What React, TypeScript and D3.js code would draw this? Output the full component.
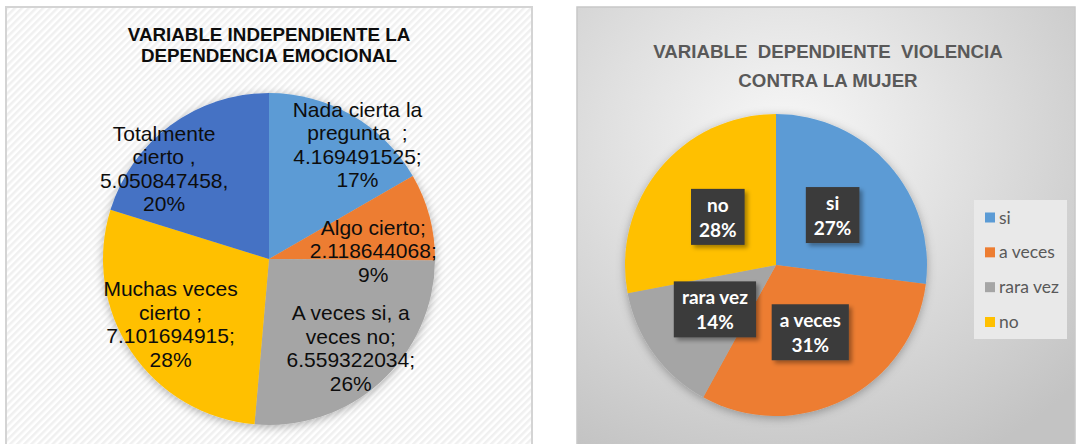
import React, { useEffect, useRef } from 'react';
import * as d3 from 'd3';

// ---------- Left chart data ----------
const leftTitle = ['VARIABLE INDEPENDIENTE LA', 'DEPENDENCIA EMOCIONAL'];
const leftCategories = ['Nada cierta la pregunta', 'Algo cierto', 'A veces si, a veces no', 'Muchas veces cierto', 'Totalmente cierto'];
const leftNameLines = [
  ['Nada cierta la', 'pregunta  ;'],
  ['Algo cierto;'],
  ['A veces si, a', 'veces no;'],
  ['Muchas veces', 'cierto ;'],
  ['Totalmente', 'cierto ,'],
];
const leftValues = [4.169491525, 2.118644068, 6.559322034, 7.101694915, 5.050847458];
const leftSeparators = [';', ';', ';', ';', ','];
const leftPercents = ['17%', '9%', '26%', '28%', '20%'];
const leftColors = ['#5B9BD5', '#ED7D31', '#A5A5A5', '#FFC000', '#4472C4'];
// label placement relative to slice middle (degrees shift, fraction of radius)
const leftLabelShift = [7.7, 10.3, -0.3, 0.4, -12.9];
const leftLabelRadius = [0.871, 0.63, 0.729, 0.711, 0.834];

// ---------- Right chart data ----------
const rightTitle = ['VARIABLE  DEPENDIENTE  VIOLENCIA', 'CONTRA LA MUJER'];
const rightCategories = ['si', 'a veces', 'rara vez', 'no'];
const rightValues = [27, 31, 14, 28];
const rightPercents = ['27%', '31%', '14%', '28%'];
const rightColors = ['#5B9BD5', '#ED7D31', '#A5A5A5', '#FFC000'];

export default function App() {
  const ref = useRef<SVGSVGElement>(null);

  useEffect(() => {
    const svg = d3.select(ref.current);
    svg.selectAll('*').remove();
    const defs = svg.append('defs');

    const pat = defs.append('pattern').attr('id', 'stripes').attr('width', 5).attr('height', 5)
      .attr('patternUnits', 'userSpaceOnUse').attr('patternTransform', 'rotate(45)');
    pat.append('rect').attr('width', 5).attr('height', 5).attr('fill', '#ffffff');
    pat.append('rect').attr('width', 2.5).attr('height', 5).attr('fill', '#f0f0f0');

    const rg = defs.append('radialGradient').attr('id', 'rbg').attr('cx', '42%').attr('cy', '30%').attr('r', '80%');
    rg.append('stop').attr('offset', '0%').attr('stop-color', '#f8f8f8');
    rg.append('stop').attr('offset', '100%').attr('stop-color', '#c3c3c3');

    const sh = defs.append('filter').attr('id', 'pieShadow').attr('x', '-20%').attr('y', '-20%').attr('width', '140%').attr('height', '140%');
    sh.append('feDropShadow').attr('dx', 0).attr('dy', 2).attr('stdDeviation', 5)
      .attr('flood-color', '#000').attr('flood-opacity', 0.3);

    const bsh = defs.append('filter').attr('id', 'boxShadow').attr('x', '-30%').attr('y', '-30%').attr('width', '160%').attr('height', '160%');
    bsh.append('feDropShadow').attr('dx', 3).attr('dy', 3).attr('stdDeviation', 2)
      .attr('flood-color', '#000').attr('flood-opacity', 0.35);

    // ===== Left panel =====
    svg.append('rect').attr('x', 6).attr('y', 7).attr('width', 526).attr('height', 446)
      .attr('fill', 'url(#stripes)').attr('stroke', '#d4d4d4').attr('stroke-width', 2);

    const lt = svg.append('text').attr('x', 269).attr('y', 41)
      .attr('text-anchor', 'middle').attr('font-family', 'Liberation Sans, Arial, sans-serif')
      .attr('font-weight', 'bold').attr('font-size', 18.8).attr('fill', '#0d0d0d');
    leftTitle.forEach((t, i) => lt.append('tspan').attr('x', 269).attr('dy', i === 0 ? 0 : 21).text(t));

    const lcx = 269, lcy = 259, lr = 166;
    const lpie = d3.pie<number>().sort(null).value(d => d)(leftValues);
    const larc = d3.arc<d3.PieArcDatum<number>>().innerRadius(0).outerRadius(lr);
    const lg = svg.append('g').attr('transform', `translate(${lcx},${lcy})`);
    lg.append('g').attr('filter', 'url(#pieShadow)').selectAll('path').data(lpie).join('path')
      .attr('d', d => larc(d) as string).attr('fill', (d, i) => leftColors[i]);

    lpie.forEach((d, i) => {
      const mid = (d.startAngle + d.endAngle) / 2 + (leftLabelShift[i] * Math.PI) / 180;
      const R = leftLabelRadius[i] * lr;
      const x = R * Math.sin(mid);
      const y = -R * Math.cos(mid);
      const lines = [...leftNameLines[i], leftValues[i].toFixed(9) + leftSeparators[i], leftPercents[i]];
      const lh = 23.5;
      const t = lg.append('text').attr('text-anchor', 'middle')
        .attr('font-family', 'Liberation Sans, Arial, sans-serif').attr('font-size', 21).attr('fill', '#0d0d0d')
        .attr('aria-label', leftCategories[i]);
      lines.forEach((ln, j) => {
        t.append('tspan').attr('x', x).attr('y', y - ((lines.length - 1) * lh) / 2 + j * lh + 7.5)
          .style('white-space', 'pre').text(ln);
      });
    });

    // ===== Right panel =====
    svg.append('rect').attr('x', 577).attr('y', 7).attr('width', 498).attr('height', 446)
      .attr('fill', 'url(#rbg)').attr('stroke', '#c8c8c8').attr('stroke-width', 1.5);

    const rt = svg.append('text').attr('x', 828).attr('y', 58)
      .attr('text-anchor', 'middle').attr('font-family', 'Liberation Sans, Arial, sans-serif')
      .attr('font-weight', 'bold').attr('font-size', 18.7).attr('fill', '#595959')
      .style('white-space', 'pre');
    rightTitle.forEach((t, i) => rt.append('tspan').attr('x', 828).attr('dy', i === 0 ? 0 : 28.5).text(t));

    const rcx = 776, rcy = 265, rr = 151;
    const rpie = d3.pie<number>().sort(null).value(d => d)(rightValues);
    const rarc = d3.arc<d3.PieArcDatum<number>>().innerRadius(0).outerRadius(rr);
    const rgp = svg.append('g').attr('transform', `translate(${rcx},${rcy})`);
    rgp.append('g').attr('filter', 'url(#pieShadow)').selectAll('path').data(rpie).join('path')
      .attr('d', d => rarc(d) as string).attr('fill', (d, i) => rightColors[i]);

    rpie.forEach((d, i) => {
      const [x, y] = rarc.centroid(d);
      const grp = rgp.append('g');
      const rect = grp.append('rect').attr('fill', '#3b3b3b').attr('filter', 'url(#boxShadow)');
      const t = grp.append('text').attr('text-anchor', 'middle')
        .attr('font-family', 'Lato, sans-serif').attr('font-weight', 'bold')
        .attr('font-size', 19).attr('fill', '#ffffff');
      t.append('tspan').attr('x', x).attr('y', y - 5).text(rightCategories[i]);
      t.append('tspan').attr('x', x).attr('y', y + 20).text(rightPercents[i]);
      const bb = (t.node() as SVGTextElement).getBBox();
      const w = bb.width + 16;
      rect.attr('x', x - w / 2).attr('y', y - 28).attr('width', w).attr('height', 56);
    });

    // Legend
    svg.append('rect').attr('x', 974).attr('y', 200).attr('width', 93).attr('height', 139).attr('fill', '#e9e9e9');
    const ly = d3.scalePoint<string>().domain(rightCategories).range([217.5, 322]);
    const leg = svg.append('g');
    rightCategories.forEach((c, i) => {
      const yy = ly(c) as number;
      leg.append('rect').attr('x', 985).attr('y', yy - 5).attr('width', 10).attr('height', 10).attr('fill', rightColors[i]);
      leg.append('text').attr('x', 999).attr('y', yy + 6).attr('font-family', 'Lato, sans-serif')
        .attr('font-size', 17.5).attr('fill', '#595959').text(c);
    });
  }, []);

  return <svg ref={ref} width={1076} height={444} style={{ position: 'absolute', left: 0, top: 0, display: 'block' }} />;
}
